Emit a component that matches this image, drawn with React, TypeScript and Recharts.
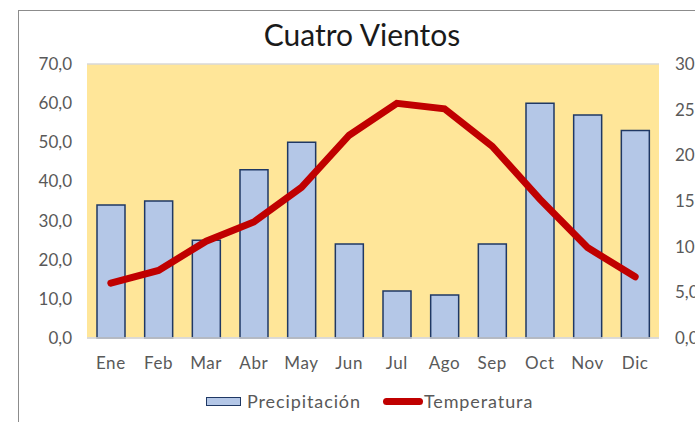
import React from "react";
import {
  ComposedChart,
  Bar,
  Line,
  XAxis,
  YAxis,
  CartesianGrid,
} from "recharts";

const MONTHS = ["Ene", "Feb", "Mar", "Abr", "May", "Jun", "Jul", "Ago", "Sep", "Oct", "Nov", "Dic"];
const PRECIPITACION = [34, 35, 25, 43, 50, 24, 12, 11, 24, 60, 57, 53];
const TEMPERATURA = [6.0, 7.4, 10.6, 12.7, 16.5, 22.2, 25.7, 25.1, 21.0, 15.2, 9.9, 6.7];
const LEFT_TICKS = [0, 10, 20, 30, 40, 50, 60, 70];
const RIGHT_TICKS = [0, 5, 10, 15, 20, 25, 30];

const data = MONTHS.map((m, i) => ({
  name: m,
  Precipitación: PRECIPITACION[i],
  Temperatura: TEMPERATURA[i],
}));

const FONT = "Lato, sans-serif";
const GRAY = "#595959";

const fmt = (v: number) => v.toFixed(1).replace(".", ",");

// legend drawn as plain html under the chart
const ChartLegend = () => (
  <div
    style={{
      position: "absolute",
      left: 187,
      top: 379,
      height: 22,
      display: "flex",
      alignItems: "center",
      fontFamily: FONT,
      fontSize: 18,
      letterSpacing: 0.9,
      color: GRAY,
      whiteSpace: "nowrap",
    }}
  >
    <span
      style={{
        display: "inline-block",
        width: 33,
        height: 7,
        background: "#B4C7E7",
        border: "1.5px solid #1F3864",
        marginRight: 6,
      }}
    />
    <span style={{ marginRight: 22 }}>Precipitación</span>
    <span
      style={{
        display: "inline-block",
        width: 40,
        height: 7,
        background: "#C00000",
        borderRadius: 4,
        marginRight: 1,
      }}
    />
    <span>Temperatura</span>
  </div>
);

export default function App() {
  return (
    <div
      style={{
        position: "absolute",
        left: 18,
        top: 10,
        width: 677,
        height: 412,
        borderLeft: "1px solid #8c8c8c",
        borderTop: "1px solid #8c8c8c",
        background: "#fff",
        overflow: "hidden",
      }}
    >
      <div
        style={{
          position: "absolute",
          left: 0,
          top: 5,
          width: 686,
          textAlign: "center",
          fontFamily: FONT,
          fontSize: 30,
          color: "#1a1a1a",
        }}
      >
        Cuatro Vientos
      </div>
      <ComposedChart
        width={760}
        height={412}
        data={data}
        margin={{ top: 53, right: 60, left: 0, bottom: 45 }}
        barSize={28}
      >
        <CartesianGrid
          vertical={false}
          stroke="#D9D9D9"
          strokeWidth={1.3}
          fill="#FFE699"
          fillOpacity={1}
        />
        <XAxis
          dataKey="name"
          axisLine={{ stroke: "#D9D9D9", strokeWidth: 1.3 }}
          tickLine={false}
          tickSize={0}
          tickMargin={19}
          height={40}
          tick={{ fill: GRAY, fontSize: 17, fontFamily: FONT, letterSpacing: 0.6 }}
          interval={0}
        />
        <YAxis
          yAxisId="left"
          orientation="left"
          width={68}
          domain={[0, 70]}
          ticks={LEFT_TICKS}
          tickFormatter={fmt}
          axisLine={false}
          tickLine={false}
          tickSize={0}
          tickMargin={15}
          tick={{ fill: GRAY, fontSize: 17, fontFamily: FONT }}
        />
        <YAxis
          yAxisId="right"
          orientation="right"
          width={60}
          domain={[0, 30]}
          ticks={RIGHT_TICKS}
          tickFormatter={fmt}
          axisLine={false}
          tickLine={false}
          tickSize={0}
          tickMargin={16}
          tick={{ fill: GRAY, fontSize: 17, fontFamily: FONT, textAnchor: "start" }}
        />
        <Bar
          yAxisId="left"
          dataKey="Precipitación"
          fill="#B4C7E7"
          stroke="#1F3864"
          strokeWidth={1.5}
          isAnimationActive={false}
        />
        <Line
          yAxisId="right"
          dataKey="Temperatura"
          stroke="#C00000"
          strokeWidth={7}
          strokeLinecap="round"
          strokeLinejoin="miter"
          dot={false}
          type="linear"
          isAnimationActive={false}
        />
      </ComposedChart>
      <ChartLegend />
    </div>
  );
}
